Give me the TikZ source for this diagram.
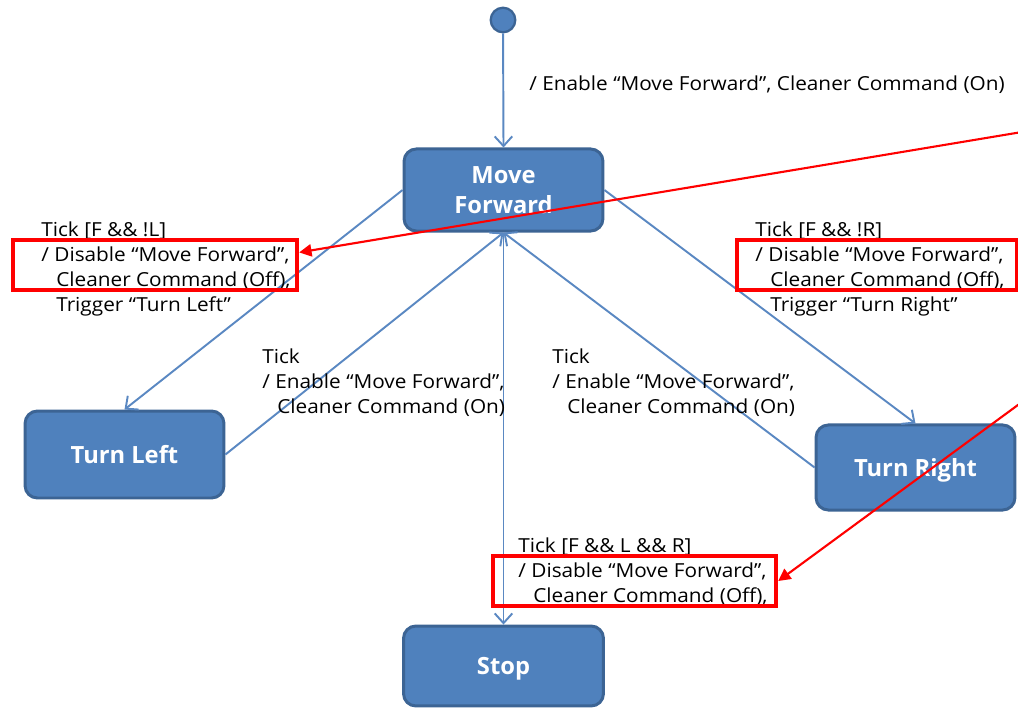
\documentclass[tikz,border=0pt]{standalone}
\usepackage{fontspec}
\setmainfont{Open Sans}[FakeStretch=1.075]
\newfontfamily\boxfont{Open Sans}
\usetikzlibrary{arrows.meta,calc}
\definecolor{boxfill}{HTML}{4F81BD}
\definecolor{boxline}{HTML}{3C6494}
\definecolor{conn}{HTML}{5A88C2}
\definecolor{annot}{HTML}{FF0000}
\begin{document}
\begin{tikzpicture}[x=0.02cm,y=-0.02cm,
 state/.style={draw=boxline, fill=boxfill, line width=1.7pt, rounded corners=7pt, text=white,
   font=\boxfont\fontsize{13.5}{17}\selectfont\bfseries, align=center, inner sep=0pt},
 startstate/.style={circle, draw=boxline, fill=boxfill, line width=1.3pt, minimum size=14pt, inner sep=0pt},
 trans/.style={draw=conn, line width=1.1pt, -{Straight Barb[length=5.5pt,width=10pt,line width=1.1pt]}},
 lbl/.style={anchor=north west, align=left, inner sep=0pt, font=\fontsize{11}{14.4}\selectfont, text=black},
 redbox/.style={draw=annot, line width=2.6pt, inner sep=0pt},
 redarrow/.style={draw=annot, line width=1.2pt, -{Triangle[length=7pt,width=7pt]}}]

\useasboundingbox (0,0) rectangle (1018,708);

% states
\node[startstate] (init) at (503,20) {};
\node[state, minimum width=113.2pt, minimum height=46.7pt] (mf) at (503.5,190) {Move\\Forward};
\node[state, minimum width=113.2pt, minimum height=49.5pt] (tl) at (124.5,454.5) {Turn Left};
\node[state, minimum width=113.2pt, minimum height=48.4pt, text depth=0pt] (tr) at (915.5,467.5) {Turn Right};
\node[state, minimum width=113.8pt, minimum height=45.5pt, text depth=0pt] (stop) at (503.5,666) {Stop};

% transitions
\draw[trans] (init) -- (mf.north);
\draw[trans] (mf.west) -- (tl.north);
\draw[trans] (tl.east) -- (mf.south);
\draw[trans] (mf.east) -- (tr.north);
\draw[trans] (tr.west) -- (mf.south);
\draw[trans] (mf.south) -- (stop.north);

% labels
\node[lbl] (lblInit) at (529,75) {/ Enable “Move Forward”, Cleaner Command (On)};
\node[lbl] (lblL) at (41,221) {Tick [F \&\& !L]\\/ Disable “Move Forward”,\\\hspace*{8.5pt}Cleaner Command (Off),\\\hspace*{8.5pt}Trigger “Turn Left”};
\node[lbl] (lblR) at (755,221) {Tick [F \&\& !R]\\/ Disable “Move Forward”,\\\hspace*{8.5pt}Cleaner Command (Off),\\\hspace*{8.5pt}Trigger “Turn Right”};
\node[lbl] (lblTL) at (262,348) {Tick\\/ Enable “Move Forward”,\\\hspace*{8.5pt}Cleaner Command (On)};
\node[lbl] (lblTR) at (552,348) {Tick\\/ Enable “Move Forward”,\\\hspace*{8.5pt}Cleaner Command (On)};
\node[lbl] (lblS) at (518,537) {Tick [F \&\& L \&\& R]\\/ Disable “Move Forward”,\\\hspace*{8.5pt}Cleaner Command (Off),};

% annotations
\node[redbox, minimum width=161.6pt, minimum height=28.5pt] (rbL) at (155,265) {};
\node[redbox, minimum width=159.3pt, minimum height=28.5pt] (rbR) at (877,265) {};
\node[redbox, minimum width=161pt, minimum height=28.5pt] (rbB) at (634.5,581) {};
\coordinate (srcA) at (1022,132);
\coordinate (srcB) at (1022,402);
\draw[redarrow] (srcA) -- (rbL.5.6);
\draw[redarrow] (srcB) -- (rbB.east);
\end{tikzpicture}
\end{document}
